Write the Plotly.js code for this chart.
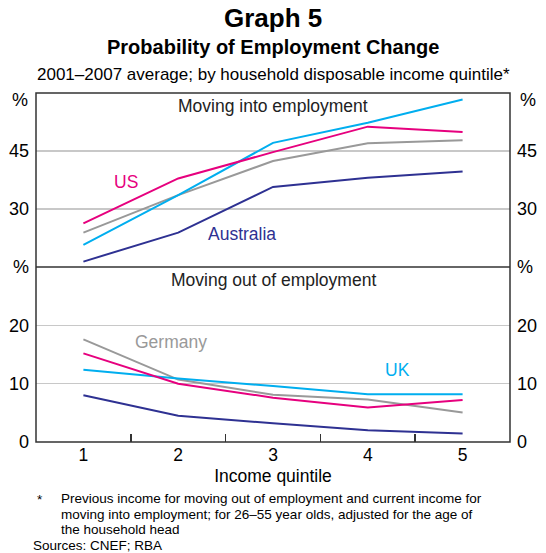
<!DOCTYPE html>
<html>
<head>
<meta charset="utf-8">
<script src="https://cdn.plot.ly/plotly-3.0.1.min.js"></script>
<style>html,body{margin:0;padding:0;background:#fff;}#chart{width:546px;height:553px;}</style>
</head>
<body>
<div id="chart"></div>
<script>
// Data
const quintiles = [1, 2, 3, 4, 5];
// Moving into employment (%)
const intoAustralia = [16.4, 23.9, 35.7, 38.1, 39.7];
const intoUS        = [26.3, 37.9, 44.7, 51.3, 49.9];
const intoGermany   = [23.9, 33.6, 42.4, 47.0, 47.8];
const intoUK        = [20.7, 33.6, 47.1, 52.3, 58.3];
// Moving out of employment (%)
const outAustralia = [8.0, 4.5, 3.2, 2.0, 1.45];
const outUS        = [15.2, 10.0, 7.6, 5.9, 7.2];
const outGermany   = [17.6, 10.7, 8.1, 7.3, 5.05];
const outUK        = [12.4, 10.9, 9.6, 8.2, 8.2];
const topTickVals = [30, 45];
const topTickText = ['30', '45'];
const botTickVals = [0, 10, 20, 30];
const botTickText = ['0', '10', '20', '%'];
const xTickText = ['1', '2', '3', '4', '5'];
const footnoteLines = [
  'Previous income for moving out of employment and current income for',
  'moving into employment; for 26–55 year olds, adjusted for the age of',
  'the household head'
];

const C = {aus: '#2e3192', us: '#e6007e', ger: '#999999', uk: '#00aeef'};
const FONT = 'Arial, "Liberation Sans", sans-serif';

function line(y, color, yaxis, opacity) {
  return {x: quintiles, y: y, xaxis: 'x', yaxis: yaxis, mode: 'lines', type: 'scatter',
          opacity: opacity === undefined ? 1 : opacity,
          line: {color: color, width: 2}, hoverinfo: 'skip', showlegend: false};
}

const traces = [
  line(intoGermany, C.ger, 'y'), line(intoUK, C.uk, 'y'), line(intoUS, C.us, 'y'), line(intoAustralia, C.aus, 'y'),
  line(outGermany, C.ger, 'y2'), line(outUK, C.uk, 'y2'), line(outUS, C.us, 'y2'), line(outAustralia, C.aus, 'y2'),
  // invisible helpers so the right-hand mirror axes are drawn
  line(intoUS, C.us, 'y3', 0), line(outUS, C.us, 'y4', 0)
];

const T = 92.7, B = 111.3, H = 553 - T - B;
const split = (441.7 - 266.7) / H;
const tickFont = {family: FONT, size: 18, color: '#000'};
const gridC = '#c8c8c8';

function yax(domain, range, vals, text, side, overlay) {
  const a = {domain: domain, range: range, tickvals: vals, ticktext: text, tickfont: tickFont,
    showgrid: !overlay, gridcolor: gridC, gridwidth: 1.5, zeroline: false, showline: false,
    ticks: '', side: side, fixedrange: true, ticklabelstandoff: 6, anchor: 'x'};
  if (overlay) { a.overlaying = overlay; }
  return a;
}

function pct(xpaper, side) {
  return {text: '%', xref: 'paper', yref: 'paper', x: xpaper, y: 1, xanchor: side === 'left' ? 'right' : 'left',
    yanchor: 'middle', xshift: side === 'left' ? -6 : 8, yshift: -(100 - T), font: {family: FONT, size: 18, color: '#000'}, showarrow: false};
}

const annotations = [
  {text: '<b>Graph 5</b>', xref: 'paper', yref: 'paper', x: 0.5, y: 1, xanchor: 'center', yanchor: 'middle',
    yshift: T - 18, font: {family: FONT, size: 26, color: '#000'}, showarrow: false},
  {text: '<b>Probability of Employment Change</b>', xref: 'paper', yref: 'paper', x: 0.5, y: 1, xanchor: 'center', yanchor: 'middle',
    yshift: T - 47, font: {family: FONT, size: 20, color: '#000'}, showarrow: false},
  {text: '2001–2007 average; by household disposable income quintile*', xref: 'paper', yref: 'paper', x: 0.5, y: 1,
    xanchor: 'center', yanchor: 'middle', yshift: T - 74, font: {family: FONT, size: 17, color: '#000'}, showarrow: false},
  pct(0, 'left'), pct(1, 'right'),
  {text: 'Moving into employment', xref: 'x', yref: 'y', x: 3.0, y: 56.6, xanchor: 'center', yanchor: 'middle',
    font: {family: FONT, size: 17.5, color: '#222'}, showarrow: false},
  {text: 'Moving out of employment', xref: 'x', yref: 'y2', x: 3.0, y: 27.8, xanchor: 'center', yanchor: 'middle',
    font: {family: FONT, size: 17.5, color: '#222'}, showarrow: false},
  {text: 'US', xref: 'x', yref: 'y', x: 1.45, y: 37.0, xanchor: 'center', yanchor: 'middle',
    font: {family: FONT, size: 17.5, color: C.us}, showarrow: false},
  {text: 'Australia', xref: 'x', yref: 'y', x: 2.67, y: 23.6, xanchor: 'center', yanchor: 'middle',
    font: {family: FONT, size: 17.5, color: C.aus}, showarrow: false},
  {text: 'Germany', xref: 'x', yref: 'y2', x: 1.92, y: 17.2, xanchor: 'center', yanchor: 'middle',
    font: {family: FONT, size: 17.5, color: C.ger}, showarrow: false},
  {text: 'UK', xref: 'x', yref: 'y2', x: 4.31, y: 12.3, xanchor: 'center', yanchor: 'middle',
    font: {family: FONT, size: 17.5, color: C.uk}, showarrow: false},
  {text: '*', xref: 'paper', yref: 'paper', x: 0, y: 0, xanchor: 'center', yanchor: 'middle',
    xshift: 40 - 36.2, yshift: -(499 - 441.7), font: {family: FONT, size: 13.5, color: '#000'}, showarrow: false},
  {text: 'Sources: CNEF; RBA', xref: 'paper', yref: 'paper', x: 0, y: 0, xanchor: 'left', yanchor: 'middle',
    xshift: 31 - 36.2, yshift: -(545 - 441.7), font: {family: FONT, size: 13.5, color: '#000'}, showarrow: false}
];
footnoteLines.forEach(function (t, i) {
  annotations.push({text: t, xref: 'paper', yref: 'paper', x: 0, y: 0, xanchor: 'left', yanchor: 'middle',
    xshift: 59 - 36.2, yshift: -(498.5 + i * 15.5 - 441.7), font: {family: FONT, size: 13.5, color: '#000'}, showarrow: false});
});

const layout = {
  width: 546, height: 553,
  margin: {l: 36.2, r: 36, t: T, b: B},
  paper_bgcolor: '#fff', plot_bgcolor: '#fff',
  font: {family: FONT, color: '#000'},
  showlegend: false,
  xaxis: {range: [0.5, 5.5], tickvals: quintiles, ticktext: xTickText, ticks: '',
    tickfont: {family: FONT, size: 17.5, color: '#000'}, showgrid: false, zeroline: false, showline: false, anchor: 'y2',
    minor: {tickmode: 'array', tickvals: [1.5, 2.5, 3.5, 4.5], ticks: 'inside', ticklen: 8, tickwidth: 1.5, tickcolor: '#333', showgrid: false},
    title: {text: 'Income quintile', font: {family: FONT, size: 17.5, color: '#000'}, standoff: 6},
    fixedrange: true},
  yaxis: yax([split, 1], [15, 60], topTickVals, topTickText, 'left'),
  yaxis2: yax([0, split], [0, 30], botTickVals, botTickText, 'left'),
  yaxis3: Object.assign(yax([split, 1], [15, 60], topTickVals, topTickText, 'right', 'y'), {showgrid: false}),
  yaxis4: Object.assign(yax([0, split], [0, 30], botTickVals, botTickText, 'right', 'y2'), {showgrid: false}),
  shapes: [
    {type: 'rect', xref: 'paper', yref: 'paper', x0: 0, x1: 1, y0: 0, y1: 1, line: {color: '#333', width: 1.5}},
    {type: 'line', xref: 'paper', yref: 'paper', x0: 0, x1: 1, y0: split, y1: split, line: {color: '#333', width: 1.5}}
  ],
  annotations: annotations
};

Plotly.newPlot('chart', traces, layout, {staticPlot: true, displayModeBar: false});
</script>
</body>
</html>
